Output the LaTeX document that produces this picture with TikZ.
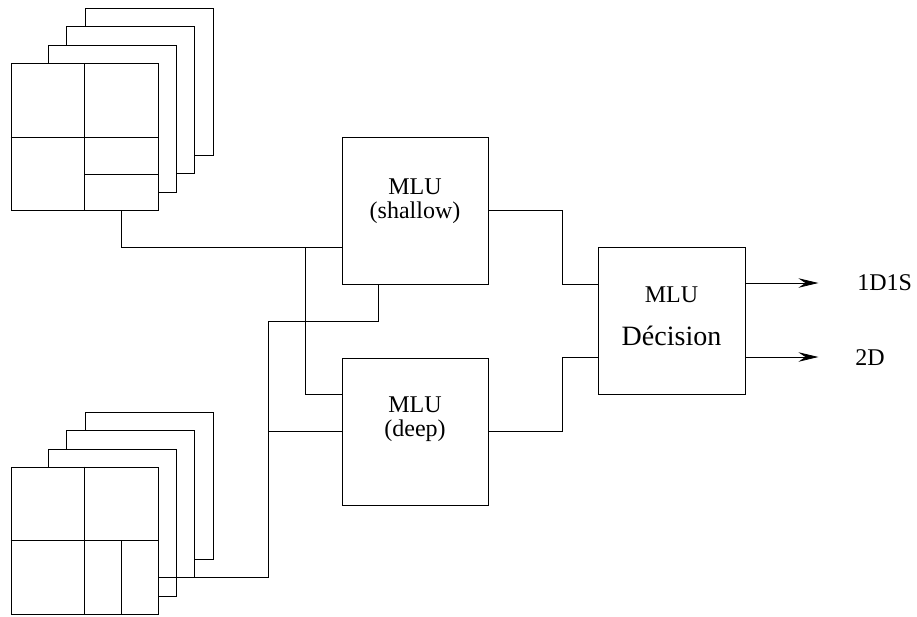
\documentclass[tikz,border=0pt]{standalone}
\usepackage{fontspec}
\setmainfont{Liberation Serif}
\usetikzlibrary{arrows.meta,positioning,calc}

\begin{document}
\begin{tikzpicture}[
		x=1pt, y=-1pt,
		line width=0.8pt,
		frame/.style={
			rectangle,
			draw,
			fill=white,
			inner sep=0pt,
			minimum width=147pt,
			minimum height=147pt
		},
		backframe/.style={frame, minimum width=128pt},
		unit/.style={
			rectangle,
			draw,
			inner sep=0pt,
			minimum width=146pt,
			minimum height=147pt
		},
		unittext/.style={align=center, font=\fontsize{24}{24}\selectfont},
		arrow/.style={-{Stealth[length=20pt, width=9.5pt, inset=7pt]}}
		]
		\useasboundingbox (0,0) rectangle (917,616);
		
		% image stacks
		\foreach \k in {3,2,1} {
			\node[backframe] (topback\k) at ({112.5+18.25*(\k-1)}, {118.5-18.25*(\k-1)}) {};
			\node[backframe] (botback\k) at ({112.5+18.25*(\k-1)}, {522.5-18.25*(\k-1)}) {};
		}
		\node[frame] (top0) at (84.5,137) {};
		\node[frame] (bot0) at (84.5,540.5) {};
		\draw (top0.north) -- (top0.south);
		\draw (top0.west) -- (top0.east);
		\draw ($(top0.center)!0.5!(top0.south)$) -- ($(top0.east)!0.5!(top0.south east)$);
		\draw (bot0.north) -- (bot0.south);
		\draw (bot0.west) -- (bot0.east);
		\draw ($(bot0.center)!0.5!(bot0.east)$) -- ($(bot0.south)!0.5!(bot0.south east)$);
		
		% units
		\node[unit, label={[unittext, yshift=9.5pt]center:MLU\\(shallow)}] (shallow) at (415,210.5) {};
		\node[unit, label={[unittext, yshift=12.5pt]center:MLU\\(deep)}] (deep) at (415,431.5) {};
		\node[unit, minimum width=147pt, label={[unittext, yshift=4.5pt]center:MLU\\[19pt]{\fontsize{28}{24}\selectfont Décision}}] (decision) at (671.5,320.5) {};
		
		\node[unittext, anchor=west, inner sep=0pt] (out1) at (857,283) {1D1S};
		\node[unittext, anchor=west, inner sep=0pt] (out2) at (855,357.5) {2D};
		
		% connections
		\coordinate (split) at (305,247);
		\coordinate (bend) at (268,321);
		\draw ($(top0.south)!0.5!(top0.south east)$) |- ([yshift=-36.5pt]shallow.west);
		\draw (split) |- ([yshift=37.5pt]deep.west);
		\draw ([yshift=-36.5pt]bot0.east) -| (bend) -| ([xshift=-37pt]shallow.south);
		\draw (bend |- deep.west) -- (deep.west);
		\draw (shallow.east) -- ++(74,0) |- ([yshift=36.5pt]decision.west);
		\draw (deep.east) -- ++(74,0) |- ([yshift=-36.5pt]decision.west);
		\draw[arrow] ([yshift=37.5pt]decision.east) -- ++(73,0);
		\draw[arrow] ([yshift=-36.5pt]decision.east) -- ++(73,0);
	\end{tikzpicture}
\end{document}
